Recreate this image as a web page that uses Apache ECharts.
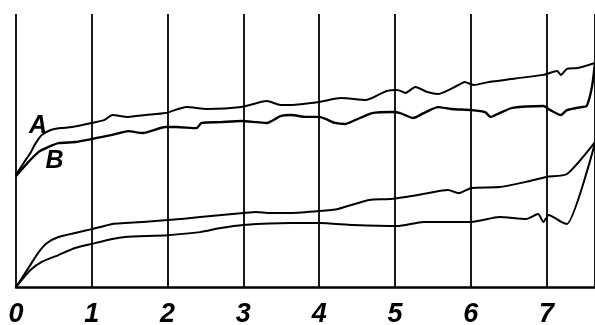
<!DOCTYPE html>
<html>
<head>
<meta charset="utf-8">
<script src="https://cdn.jsdelivr.net/npm/echarts@6/dist/echarts.min.js"></script>
<style>
  html, body { margin: 0; padding: 0; background: #fff; }
  #chart { width: 595px; height: 325px; }
</style>
</head>
<body>
<div id="chart"></div>
<script>
// hour ticks along the bottom
const hourTicks = [0, 1, 2, 3, 4, 5, 6, 7]

// curve A (upper of the top pair)
const curveA = [
    [0, 41.0], [0.10, 45.4], [0.19, 49.1], [0.26, 52.7], [0.34, 55.7], [0.46, 57.5], [0.59, 58.2], [0.74, 58.6],
    [1.0, 60.1], [1.17, 61.2], [1.27, 63.0], [1.48, 62.3], [1.71, 63.0], [1.97, 63.7], [2.25, 65.9], [2.52, 65.2],
    [2.97, 65.9], [3.31, 68.1], [3.49, 66.7], [3.63, 66.7], [4.0, 67.8], [4.29, 69.2], [4.62, 68.5], [4.89, 71.8],
    [5.03, 72.2], [5.14, 71.1], [5.27, 73.3], [5.43, 71.4], [5.57, 70.7], [5.84, 74.0], [5.92, 75.1], [6.04, 74.0],
    [6.24, 75.1], [6.65, 76.6], [6.96, 77.7], [7.14, 79.1], [7.19, 77.7], [7.27, 79.9], [7.41, 80.2], [7.64, 82.1],
]

// curve B (lower of the top pair)
const curveB = [
    [0, 40.7], [0.15, 45.4], [0.30, 49.5], [0.43, 51.3], [0.56, 52.7], [0.78, 53.1], [1.0, 54.2], [1.27, 55.7],
    [1.48, 57.1], [1.67, 56.4], [1.97, 58.6], [2.11, 58.6], [2.38, 58.2], [2.45, 60.1], [2.70, 60.4], [2.97, 60.8],
    [3.17, 60.4], [3.31, 60.1], [3.49, 62.6], [3.63, 63.0], [3.83, 62.3], [4.0, 62.3], [4.21, 60.1], [4.34, 59.7],
    [4.48, 61.2], [4.70, 63.7], [4.97, 64.1], [5.07, 63.7], [5.24, 61.9], [5.38, 63.7], [5.57, 65.9], [5.74, 65.2],
    [6.01, 64.8], [6.19, 64.1], [6.26, 62.3], [6.38, 63.7], [6.55, 65.6], [6.96, 66.3], [7.05, 64.8], [7.19, 63.0],
    [7.27, 64.8], [7.46, 65.9], [7.53, 66.3], [7.60, 73.3], [7.64, 82.1],
]

// upper curve of the bottom pair
const curveC = [
    [0, 0], [0.19, 8.1], [0.30, 12.8], [0.41, 16.1], [0.56, 18.3], [0.78, 19.8], [1.0, 21.2], [1.27, 23.1],
    [1.44, 23.4], [2.0, 24.5], [2.43, 25.6], [3.0, 27.1], [3.17, 27.5], [3.35, 27.1], [3.63, 27.1], [4.0, 27.8],
    [4.25, 28.6], [4.66, 31.9], [4.93, 32.2], [5.30, 33.7], [5.70, 35.5], [5.84, 34.4], [6.01, 36.3], [6.38, 36.6],
    [6.73, 38.5], [7.0, 40.3], [7.27, 41.4], [7.64, 53.1],
]

// lowest curve
const curveD = [
    [0, 0], [0.19, 6.2], [0.34, 9.2], [0.56, 11.7], [0.78, 14.3], [1.0, 15.8], [1.27, 17.6], [1.44, 18.3],
    [2.0, 19.0], [2.43, 20.1], [2.70, 21.6], [3.0, 22.7], [3.63, 23.4], [4.0, 23.4], [4.45, 22.7], [5.03, 22.3],
    [5.38, 23.8], [6.01, 23.8], [6.38, 25.6], [6.73, 24.9], [6.89, 26.7], [6.96, 23.8], [7.03, 26.4], [7.20, 23.8],
    [7.27, 23.1], [7.64, 52.7],
]

// curve letters written beside the top pair
const curveNames = ['A', 'B']
const curveNameAt = [[0.29, 59.0], [0.51, 46.2]]

const handFont = { fontFamily: 'Liberation Sans', fontWeight: 'bold', fontStyle: 'italic', fontSize: 27, color: '#000' }

const line = (data, width) => ({
    type: 'line',
    data,
    symbol: 'none',
    smooth: 0.2,
    lineStyle: { color: '#000', width },
    animation: false,
})

const chart = echarts.init(document.getElementById('chart'), null, { renderer: 'canvas' })
chart.setOption({
    backgroundColor: '#fff',
    animation: false,
    grid: { left: 16, right: 0, top: 14, bottom: 38, outerBoundsMode: 'none' },
    xAxis: {
        type: 'value',
        min: 0,
        max: 7.64,
        interval: 1,
        axisLine: { show: true, lineStyle: { color: '#000', width: 2.5 } },
        axisTick: { show: false },
        axisLabel: {
            ...handFont,
            margin: 14,
            showMaxLabel: false,
            formatter: (v) => (hourTicks.includes(v) ? String(v) : ''),
        },
        splitLine: { show: true, lineStyle: { color: '#000', width: 1.8 } },
    },
    yAxis: {
        type: 'value',
        min: 0,
        max: 100,
        show: false,
        splitLine: { show: false },
    },
    series: [
        line(curveA, 2),
        line(curveB, 2.4),
        line(curveC, 2),
        line(curveD, 2),
        {
            type: 'scatter',
            symbolSize: 0,
            itemStyle: { color: '#000', opacity: 1 },
            data: curveNames.map((n, i) => ({ name: n, value: curveNameAt[i] })),
            label: { show: true, position: 'inside', formatter: (p) => p.name, ...handFont, fontSize: 25 },
            animation: false,
        },
    ],
})
</script>
</body>
</html>
